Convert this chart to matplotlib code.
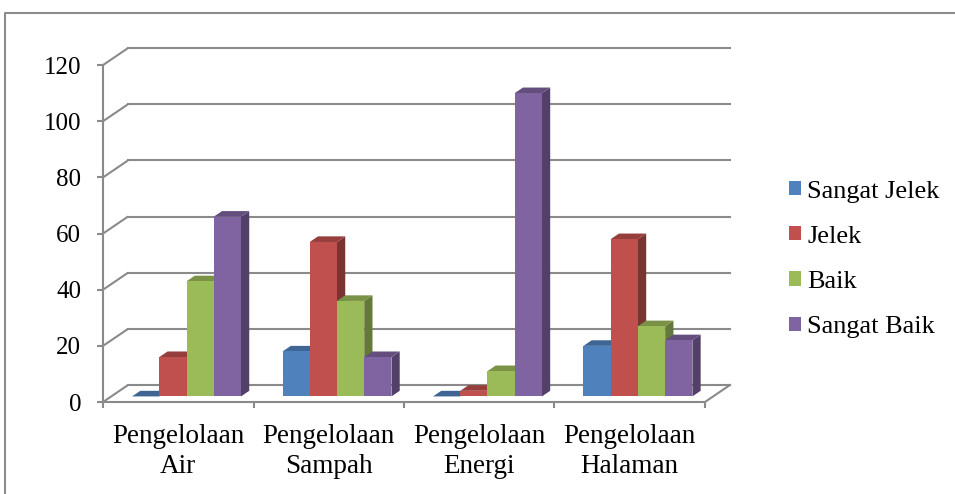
import numpy as np
import matplotlib
matplotlib.use("Agg")
import matplotlib.pyplot as plt
from matplotlib.patches import Polygon
from matplotlib.lines import Line2D
from matplotlib.colors import to_rgb

# Data
categories = ["Pengelolaan\nAir", "Pengelolaan\nSampah", "Pengelolaan\nEnergi", "Pengelolaan\nHalaman"]
series_names = ["Sangat Jelek", "Jelek", "Baik", "Sangat Baik"]
sangat_jelek = [0, 16, 0, 18]
jelek = [14, 55, 2, 56]
baik = [41, 34, 9, 25]
sangat_baik = [64, 14, 108, 20]
y_ticks = [0, 20, 40, 60, 80, 100, 120]

values = [sangat_jelek, jelek, baik, sangat_baik]
colors = ["#4F81BD", "#C0504D", "#9BBB59", "#8064A2"]

plt.rcParams["font.family"] = ["Liberation Serif", "DejaVu Serif"]

fig = plt.figure(figsize=(9.55, 4.94), dpi=100)
ax = fig.add_axes([0.1079, 0.1862, 0.6572, 0.7219])

# pseudo 3D depth of the walls (x in category units, y in value units)
wall_dx = 0.166
wall_dy = 6.05
grid_col = "#8A8A8A"
grid_lw = 1.5
n_cat = len(categories)

ax.set_xlim(0, n_cat + wall_dx + 0.005)
ax.set_ylim(0, 127)

# back wall gridlines and side wall diagonals
for v in y_ticks:
    ax.plot([0, wall_dx], [v, v + wall_dy], color=grid_col, lw=grid_lw,
            zorder=1, clip_on=False, solid_capstyle="butt")
    ax.plot([wall_dx, n_cat + wall_dx], [v + wall_dy, v + wall_dy],
            color=grid_col, lw=grid_lw, zorder=1, clip_on=False)
# floor right edge
ax.plot([n_cat, n_cat + wall_dx], [0, wall_dy], color=grid_col, lw=grid_lw,
        zorder=1, clip_on=False)

# bars
f = 0.33
off_x, off_y = f * wall_dx, f * wall_dy
bdx, bdy = 0.33 * wall_dx, 0.33 * wall_dy
w = 0.181
g0 = (1 - 4 * w) / 2

for s, (vals, col) in enumerate(zip(values, colors)):
    rgb = np.array(to_rgb(col))
    side = rgb * 0.64
    top = rgb * 0.78
    x_left = np.arange(n_cat) + g0 + s * w + off_x
    z = 3 + s
    for xl, v in zip(x_left, vals):
        xr = xl + w
        y0 = off_y
        y1 = off_y + v
        ax.add_patch(Polygon([(xr, y0), (xr + bdx, y0 + bdy), (xr + bdx, y1 + bdy), (xr, y1)],
                             closed=True, facecolor=side, edgecolor="none", zorder=z))
        ax.add_patch(Polygon([(xl, y1), (xr, y1), (xr + bdx, y1 + bdy), (xl + bdx, y1 + bdy)],
                             closed=True, facecolor=top, edgecolor="none", zorder=z))
    ax.bar(x_left, vals, width=w, bottom=off_y, align="edge", color=col,
           edgecolor="none", zorder=z, label=series_names[s])

# axes
for sp in ["top", "right"]:
    ax.spines[sp].set_visible(False)
ax.spines["left"].set_bounds(0, 120)
ax.spines["bottom"].set_bounds(0, n_cat)
for sp in ["left", "bottom"]:
    ax.spines[sp].set_color(grid_col)
    ax.spines[sp].set_linewidth(grid_lw)
    ax.spines[sp].set_zorder(2)

ax.set_yticks(y_ticks)
ax.set_yticklabels([str(t) for t in y_ticks])
ax.tick_params(axis="y", direction="out", length=4.3, width=grid_lw, color=grid_col,
               labelsize=18, pad=11.5)

ax.set_xticks(np.arange(n_cat) + 0.5)
ax.set_xticklabels(categories, linespacing=1.25)
ax.set_xticks(np.arange(n_cat + 1), minor=True)
ax.tick_params(axis="x", which="major", length=0, labelsize=19.5, pad=16)
ax.tick_params(axis="x", which="minor", direction="out", length=4.3, width=grid_lw,
               color=grid_col)

ax.legend(loc="center left", bbox_to_anchor=(0.826, 0.475),
          bbox_transform=fig.transFigure, frameon=False, fontsize=19,
          handlelength=0.45, handleheight=0.45, handletextpad=0.25,
          labelspacing=0.88, borderpad=0, borderaxespad=0)

# outer frame
fx0 = 5 / 955
fy1 = 1 - 13 / 494
fig.add_artist(Line2D([fx0, fx0, 1.01], [-0.01, fy1, fy1], transform=fig.transFigure,
                      color="#8C8C8C", lw=1.5))

fig.savefig("out.png", dpi=100)
